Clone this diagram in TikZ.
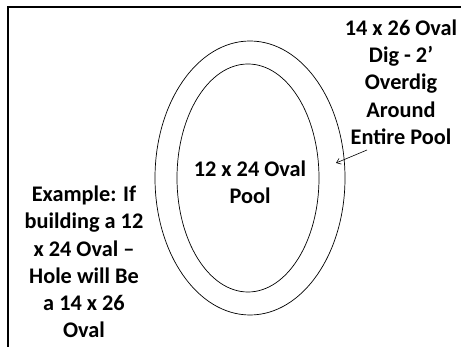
\documentclass[tikz,border=0pt]{standalone}
\usepackage{fontspec}
\setmainfont{Carlito}
\usetikzlibrary{arrows.meta}

\tikzset{
  note/.style={align=center, font=\fontsize{22.3}{27.3}\selectfont\bfseries},
  ring/.style={line width=0.7pt}
}

\begin{document}
\begin{tikzpicture}[x=1pt,y=-1pt]
    \useasboundingbox (0,0) rectangle (461,347);

    % Outer frame (open at right and bottom)
    \draw[line width=2pt] (8,347) -- (8,7) -- (461,7);

    % Dig outline and pool
    \draw[ring] (250,178) ellipse [x radius=95pt, y radius=137pt];
    \draw[ring] (248,178) ellipse [x radius=71pt, y radius=114pt];

    % Labels
    \node[note] (pool) at (250,182) {12 x 24 Oval\\Pool};
    \node[note] (dig) at (401,82) {14 x 26 Oval\\Dig - 2’\\Overdig\\Around\\Entire Pool};
    \node[note] (example) at (84,262) {Example: If\\building a 12\\x 24 Oval –\\Hole will Be\\a 14 x 26\\Oval};

    % Pointer to the overdig ring
    \coordinate (tail) at (367,150);
    \coordinate (tip) at (336,163);
    \draw[-{Straight Barb[length=4pt,width=6pt]}, line width=0.6pt] (tail) -- (tip);
\end{tikzpicture}
\end{document}
